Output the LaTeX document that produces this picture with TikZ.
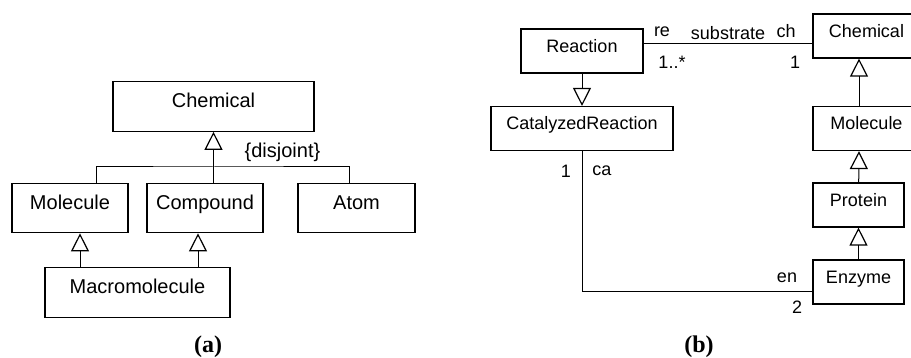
\documentclass[tikz,border=0pt]{standalone}
\usepackage{fontspec}
\setmainfont{Liberation Sans}
\newfontfamily\capfont{Liberation Serif}
\usetikzlibrary{arrows.meta}
\begin{document}
\begin{tikzpicture}[x=0.5pt,y=-0.5pt]

    \tikzset{
      classA/.style={
        draw,
        line width=0.6pt,
        inner sep=0pt,
        text height=13pt,
        text depth=11.75pt,
        font=\fontsize{10}{12}\selectfont,
      },
      classB/.style={
        draw,
        line width=0.6pt,
        inner sep=0pt,
        text height=11.75pt,
        text depth=10.25pt,
        font=\fontsize{9}{11}\selectfont,
      },
      gen/.style={line width=0.5pt,-{Triangle[open,width=9pt,length=9pt,line width=0.6pt]}},
      assoc/.style={line width=0.5pt},
      lbl/.style={inner sep=0pt,font=\fontsize{9}{11}\selectfont},
      caption/.style={inner sep=0pt,font=\capfont\bfseries\fontsize{12}{14}\selectfont},
    }
    \clip (0,0) rectangle (911,358);

    % (a)
    \node[classA,minimum width=100.5pt] (chemA) at (213.5,106.5) {Chemical};
    \node[classA,minimum width=58pt] (molA) at (70,208) {Molecule};
    \node[classA,minimum width=58pt] (cmpA) at (205,208) {Compound};
    \node[classA,minimum width=58.5pt] (atomA) at (356.5,208) {Atom};
    \node[classA,minimum width=92.5pt] (macroA) at (137.5,292.5) {Macromolecule};
    \coordinate (fork) at (213.5,167);
    \draw[gen] (cmpA.north -| chemA.south) -- (chemA.south);
    \draw[assoc] ([xshift=13pt]molA.north) |- (fork) -| ([xshift=-3.75pt]atomA.north);
    \draw[gen] ([xshift=-28.75pt]macroA.north) -- ([xshift=5pt]molA.south);
    \draw[gen] ([xshift=30.25pt]macroA.north) -- ([xshift=-3.5pt]cmpA.south);
    \node[inner sep=0pt,font=\fontsize{10}{12}\selectfont] (disj) at (282.5,152) {\{disjoint\}};
    \node[caption] (capA) at (208,347) {(a)};

    % (b)
    \node[classB,minimum width=61pt] (reacB) at (582,51) {Reaction};
    \node[classB,minimum width=91pt] (catB) at (582,128.5) {CatalyzedReaction};
    \node[classB,minimum width=53.5pt] (chemB) at (866.5,36) {Chemical};
    \node[classB,minimum width=53.5pt] (molB) at (866.5,128.5) {Molecule};
    \node[classB,minimum width=45.5pt] (protB) at (858.5,205) {Protein};
    \node[classB,minimum width=45.5pt] (enzB) at (858.5,282) {Enzyme};
    \draw[gen] (reacB) -- (catB);
    \draw[gen] ([xshift=-3.75pt]molB.north) -- ([xshift=-3.75pt]chemB.south);
    \draw[gen] (protB) -- ([xshift=-3.75pt]molB.south);
    \draw[gen] (enzB) -- (protB);
    \draw[assoc] ([yshift=3.5pt]reacB.east) -- ([yshift=-4pt]chemB.west);
    \draw[assoc] (catB.south) |- ([yshift=-4.5pt]enzB.west);
    \node[lbl] (re) at (662,32) {re};
    \node[lbl] (substrate) at (728,33) {substrate};
    \node[lbl] (ch) at (786,31) {ch};
    \node[lbl] (reMult) at (672,62) {1..*};
    \node[lbl] (chMult) at (795,62) {1};
    \node[lbl] (caMult) at (566,171) {1};
    \node[lbl] (ca) at (602,171) {ca};
    \node[lbl] (en) at (787,278) {en};
    \node[lbl] (enMult) at (797,307) {2};
    \node[caption] (capB) at (699,347) {(b)};

\end{tikzpicture}
\end{document}
